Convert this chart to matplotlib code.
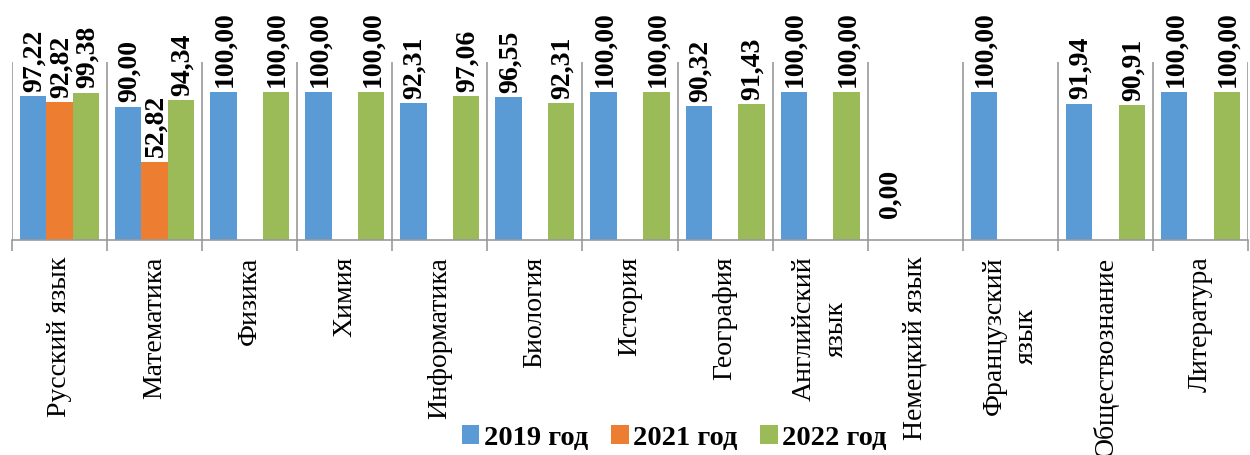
import numpy as np
import matplotlib
matplotlib.use("Agg")
import matplotlib.pyplot as plt
from matplotlib.patches import Patch

categories = ["Русский язык", "Математика", "Физика", "Химия", "Информатика",
              "Биология", "История", "География", "Английский\nязык", "Немецкий язык",
              "Французский\nязык", "Обществознание", "Литература"]
series_names = ["2019 год", "2021 год", "2022 год"]
v2019 = [97.22, 90.00, 100.00, 100.00, 92.31, 96.55, 100.00, 90.32, 100.00, 0.00, 100.00, 91.94, 100.00]
v2021 = [92.82, 52.82, np.nan, np.nan, np.nan, np.nan, np.nan, np.nan, np.nan, np.nan, np.nan, np.nan, np.nan]
v2022 = [99.38, 94.34, 100.00, 100.00, 97.06, 92.31, 100.00, 91.43, 100.00, np.nan, np.nan, 90.91, 100.00]
colors = ["#5B9BD5", "#ED7D31", "#9BBB59"]

plt.rcParams['font.family'] = ['Liberation Serif', 'DejaVu Serif']

fig = plt.figure(figsize=(12.5, 4.55), dpi=100)
ax = fig.add_axes([12/1250, 1-240/455, (1248-12)/1250, (240-62)/455])

x = np.arange(len(categories))
w = 0.277
grid_c = "#999999"
for k, (vals, c) in enumerate(zip([v2019, v2021, v2022], colors)):
    xs = x + (k-1)*w
    ax.bar(xs, vals, width=w, color=c, zorder=2)
    for xi, v in zip(xs, vals):
        if np.isnan(v):
            continue
        ax.annotate(f"{v:.2f}".replace(".", ","), (xi, v), xytext=(1, 3 if v > 0 else 16),
                    textcoords="offset points", rotation=90, ha="center", va="bottom",
                    fontsize=20, fontweight="bold", color="black", zorder=3)

ax.set_xlim(-0.5, len(categories)-0.5)
ax.set_ylim(0, 120)
ax.set_yticks([])
ax.set_xticks(x)
ax.set_xticklabels(categories, rotation=90, fontsize=20, va="top", ha="center",
                   multialignment="center", linespacing=1.4)
ax.tick_params(axis="x", which="major", length=0, pad=12)
bounds = np.arange(len(categories)+1) - 0.5
ax.set_xticks(bounds, minor=True)
ax.tick_params(axis="x", which="minor", length=8, width=1.2, color=grid_c, direction="out")
for b in bounds:
    ax.axvline(b, color=grid_c, lw=1.2, zorder=1)
for s in ["top", "right"]:
    ax.spines[s].set_visible(False)
ax.spines["left"].set_visible(False)
ax.spines["bottom"].set_color(grid_c)
ax.spines["bottom"].set_linewidth(1.2)

handles = [Patch(facecolor=c, label=n) for c, n in zip(colors, series_names)]
fig.legend(handles=handles, loc="center", bbox_to_anchor=(674/1250, 1-438/455), ncol=3,
           frameon=False, prop={"size": 20.5, "weight": "bold"}, handlelength=0.63,
           handleheight=0.63, handletextpad=0.15, columnspacing=0.8, borderpad=0)

fig.savefig("out.png", dpi=100)
